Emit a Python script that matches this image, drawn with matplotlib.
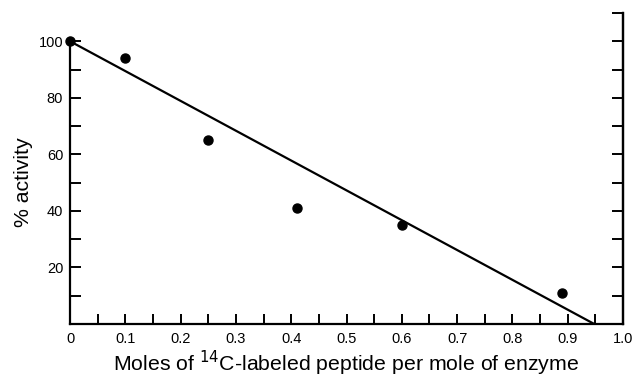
import numpy as np
import matplotlib.pyplot as plt
from matplotlib.ticker import FixedLocator

# data
moles = [0.0, 0.10, 0.25, 0.41, 0.60, 0.89]
activity = [100, 94, 65, 41, 35, 11]

# fitted line end points
fit_x = [0.0, 0.948]
fit_y = [100, 0]

x_ticks = [0.0, 0.1, 0.2, 0.3, 0.4, 0.5, 0.6, 0.7, 0.8, 0.9, 1.0]
x_labels = ["0", "0.1", "0.2", "0.3", "0.4", "0.5", "0.6", "0.7", "0.8", "0.9", "1.0"]
y_ticks = [20, 40, 60, 80, 100]

plt.rcParams['font.family'] = ['Liberation Sans', 'DejaVu Sans']

fig = plt.figure(figsize=(6.37, 3.78), dpi=100)
ax = fig.add_axes([0.110, 0.1429, 0.868, 0.8227])

ax.plot(fit_x, fit_y, color='black', linewidth=1.6, solid_capstyle='butt')
ax.plot(moles, activity, 'o', color='black', markersize=6.5, clip_on=False)

ax.set_xlim(0, 1.0)
ax.set_ylim(0, 110)

ax.spines['top'].set_visible(False)
ax.spines['left'].set_bounds(0, 101)
for s in ('left', 'right', 'bottom'):
    ax.spines[s].set_linewidth(1.6)

# bottom: tick every 0.05 (except the ends), label every 0.1
ax.set_xticks(x_ticks)
ax.set_xticklabels(x_labels)
ax.xaxis.set_minor_locator(FixedLocator(np.arange(0.05, 1.0, 0.1)))
ax.tick_params(axis='x', which='both', direction='in', length=7, width=1.4,
               labelsize=10.5, pad=6)
for t in (ax.xaxis.get_major_ticks()[0], ax.xaxis.get_major_ticks()[-1]):
    t.tick1line.set_visible(False)

# left: tick every 10, label every 20
ax.set_yticks(y_ticks)
ax.yaxis.set_minor_locator(FixedLocator(np.arange(10, 100, 20)))
ax.tick_params(axis='y', which='both', direction='in', length=8, width=1.4,
               labelsize=10.5, pad=5, left=True, right=False)

# right axis with inward ticks, no labels
ax2 = ax.twinx()
ax2.set_ylim(0, 110)
ax2.spines['top'].set_visible(False)
ax2.spines['left'].set_visible(False)
ax2.spines['bottom'].set_visible(False)
ax2.spines['right'].set_linewidth(1.6)
ax2.yaxis.set_major_locator(FixedLocator(np.arange(10, 111, 10)))
ax2.tick_params(axis='y', direction='in', length=8, width=1.4, labelright=False)

ax.set_xlabel(r"Moles of $^{14}$C-labeled peptide per mole of enzyme",
              fontsize=15.3, labelpad=2)
ax.set_ylabel("% activity", fontsize=15.3, labelpad=4, y=0.457)

fig.savefig("out.png", dpi=100)
